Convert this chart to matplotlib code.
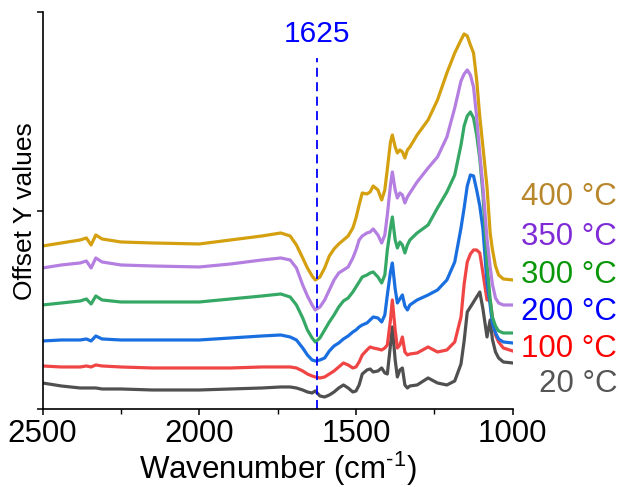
import matplotlib
matplotlib.use("Agg")
import matplotlib.pyplot as plt
from matplotlib.ticker import MultipleLocator

plt.rcParams['font.family'] = ['Liberation Sans', 'DejaVu Sans']

# wavenumber grid (cm-1) and offset intensities (arbitrary units)
wavenumber = [2500, 2440, 2380, 2360, 2345, 2330, 2310, 2250, 2150, 2000,
              1900, 1800, 1740, 1710, 1690, 1670, 1655, 1640, 1630, 1615,
              1600, 1585, 1570, 1555, 1540, 1525, 1510, 1500, 1490, 1480,
              1465, 1455, 1445, 1430, 1418, 1408, 1400, 1390, 1384, 1375,
              1368, 1360, 1352, 1344, 1336, 1328, 1305, 1270, 1240, 1210,
              1185, 1165, 1155, 1145, 1135, 1125, 1115, 1105, 1095, 1082,
              1072, 1065, 1055, 1045, 1030, 1000]

y_400 = [163, 166, 169, 171, 164, 174, 170, 167, 166, 165,
         169, 173, 176, 173, 164, 151, 141, 133, 129, 132,
         141, 153, 160, 165, 169, 173, 181, 191, 204, 216,
         215, 217, 223, 219, 209, 219, 240, 267, 274, 262,
         256, 259, 257, 251, 259, 262, 274, 289, 309, 336,
         356, 369, 375, 373, 364, 356, 329, 292, 262, 222,
         176, 160, 143, 134, 130, 129]

y_350 = [141, 144, 146, 148, 141, 151, 147, 144, 143, 142,
         145, 149, 151, 149, 141, 124, 113, 104, 99, 102,
         109, 119, 129, 136, 139, 142, 151, 159, 169, 173,
         176, 177, 180, 174, 166, 174, 194, 224, 237, 219,
         211, 216, 214, 206, 212, 216, 227, 241, 252, 272,
         301, 328, 335, 339, 334, 322, 292, 255, 222, 170,
         142, 125, 111, 106, 104, 104]

y_300 = [104, 106, 108, 110, 105, 113, 109, 107, 107, 107,
         110, 113, 115, 112, 104, 91, 79, 71, 67, 71,
         79, 87, 94, 102, 108, 111, 117, 122, 127, 132,
         134, 136, 137, 132, 126, 134, 159, 181, 192, 169,
         161, 167, 164, 156, 164, 169, 176, 184, 201, 217,
         234, 264, 283, 293, 297, 291, 274, 250, 215, 145,
         110, 92, 83, 78, 76, 76]

y_200 = [68, 69, 69, 70, 68, 73, 70, 69, 69, 69,
         71, 73, 74, 72, 69, 61, 54, 49, 48, 49,
         51, 58, 63, 66, 70, 73, 77, 79, 82, 84,
         86, 89, 92, 91, 87, 94, 114, 137, 146, 120,
         106, 110, 114, 103, 99, 104, 109, 114, 119, 129,
         147, 181, 201, 223, 234, 233, 219, 203, 180, 126,
         104, 86, 76, 70, 67, 66]

y_100 = [43, 42, 42, 43, 42, 44, 43, 42, 41, 41,
         41, 42, 42, 42, 41, 38, 35, 33, 32, 31,
         32, 35, 38, 42, 46, 44, 41, 42, 47, 54,
         59, 62, 61, 60, 59, 61, 64, 89, 109, 79,
         61, 64, 72, 57, 54, 55, 56, 62, 57, 59,
         67, 92, 125, 147, 155, 159, 159, 156, 136, 109,
         109, 92, 74, 67, 61, 58]

y_20 = [26, 23, 21, 21, 21, 21, 20, 20, 19, 19,
        20, 21, 22, 22, 21, 19, 17, 16, 18, 13,
        12, 14, 17, 21, 24, 21, 17, 18, 24, 35,
        39, 40, 37, 38, 41, 36, 35, 64, 82, 49,
        32, 39, 41, 24, 21, 23, 24, 31, 26, 24,
        28, 45, 68, 97, 102, 107, 112, 117, 100, 72,
        89, 70, 57, 51, 47, 46]

series = [y_20, y_100, y_200, y_300, y_350, y_400]
labels = ["20 °C", "100 °C", "200 °C", "300 °C", "350 °C", "400 °C"]
line_colors = ['#505050', '#F04545', '#1A6FE0', '#36A865', '#B47FE0', '#D4A010']
label_colors = ['#555555', '#FF0000', '#0000FF', '#0A960A', '#7F2BD6', '#B8862B']
label_y = [0.195, 0.267, 0.343, 0.419, 0.497, 0.579]

marker_wn = 1625

fig = plt.figure(figsize=(6.19, 4.87), dpi=100)
ax = fig.add_axes([0.0687, 0.1602, 0.7596, 0.8142])

for ys, c in zip(series, line_colors):
    ax.plot(wavenumber, ys, color=c, lw=2.3, solid_joinstyle='round')

ax.plot([marker_wn, marker_wn], [0, 351], color='#0000FF', lw=1.3,
        linestyle=(0, (5, 3)))
ax.text(marker_wn, 367, str(marker_wn), color='#0000FF', fontsize=21.5,
        ha='center', va='baseline')

for lab, c, yy in zip(labels, label_colors, label_y):
    fig.text(0.997, yy, lab, color=c, fontsize=22.5, ha='right', va='baseline')

ax.set_xlim(2500, 1000)
ax.set_ylim(0, 396.5)
ax.set_yticks([0, 198.25, 396.5])
ax.set_yticklabels([])
ax.xaxis.set_major_locator(MultipleLocator(500))
ax.xaxis.set_minor_locator(MultipleLocator(250))
ax.tick_params(axis='both', which='major', direction='out', length=4.5,
               width=1.1, labelsize=22.5, pad=3)
ax.tick_params(axis='x', which='minor', direction='out', length=3.5, width=1.0)

for s in ['top', 'right']:
    ax.spines[s].set_visible(False)
for s in ['left', 'bottom']:
    ax.spines[s].set_linewidth(1.2)

ax.set_xlabel("Wavenumber (cm$^{\\mathregular{\u20101}}$)", fontsize=22.5,
              labelpad=0)
ax.set_ylabel("Offset Y values", fontsize=19)
ax.yaxis.set_label_coords(-0.012, 0.5)

fig.savefig("out.png", dpi=100)
